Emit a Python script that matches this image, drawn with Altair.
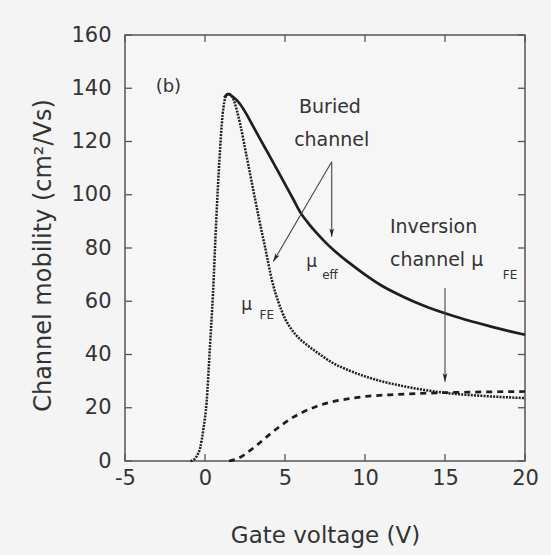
import altair as alt
import pandas as pd

# ---- data ----
eff_x = [1.2, 1.45, 1.8, 2.2, 2.6, 3.0, 3.5, 4.0, 4.5, 5.0, 5.5, 6.0, 6.5, 7.0, 7.5, 8.0, 9.0, 10.0, 11.0, 12.0, 13.0, 14.0, 15.0, 16.0, 17.0, 18.0, 19.0, 20.0]
eff_y = [136.5, 137.8, 136.5, 134.0, 130.2, 125.8, 120.3, 115.0, 109.5, 104.0, 98.5, 93.0, 89.0, 85.5, 82.3, 79.4, 74.5, 70.0, 66.0, 62.8, 60.0, 57.6, 55.5, 53.6, 51.9, 50.3, 48.8, 47.4]

fe_x = [-0.9, -0.7, -0.5, -0.3, -0.1, 0.1, 0.3, 0.5, 0.7, 0.9, 1.1, 1.3, 1.45, 1.6, 1.8, 2.0, 2.2, 2.6, 3.0, 3.4, 3.8, 4.2, 4.6, 5.0, 5.4, 5.9, 6.5, 7.0, 8.0, 9.0, 10.0, 11.0, 12.0, 13.0, 14.0, 15.0, 16.0, 17.0, 18.0, 19.0, 20.0]
fe_y = [0.0, 0.5, 2.0, 5.0, 12.0, 22.0, 42.0, 63.0, 90.0, 113.0, 130.0, 137.0, 138.0, 137.5, 135.5, 131.5, 126.5, 114.5, 102.3, 90.3, 79.0, 67.5, 59.5, 53.5, 49.5, 46.0, 43.0, 40.8, 36.8, 34.0, 31.8, 30.0, 28.6, 27.4, 26.4, 25.6, 25.0, 24.6, 24.2, 23.9, 23.6]

inv_x = [1.5, 2.0, 2.5, 3.0, 3.5, 4.0, 4.5, 5.0, 5.5, 6.0, 7.0, 8.0, 9.0, 10.0, 12.0, 14.0, 16.0, 18.0, 20.0]
inv_y = [0.0, 0.8, 2.5, 4.8, 7.2, 9.8, 12.2, 14.4, 16.4, 18.0, 20.6, 22.3, 23.4, 24.2, 25.0, 25.5, 25.8, 26.0, 26.1]

x_ticks = [-5, 0, 5, 10, 15, 20]
y_ticks = [0, 20, 40, 60, 80, 100, 120, 140, 160]

# arrows: start (x, y) -> tip (x2, y2), head angle
arr_x = [7.92, 7.92, 15.0]
arr_y = [112.4, 112.4, 65.0]
arr_x2 = [7.92, 4.27, 15.0]
arr_y2 = [84.2, 74.9, 29.8]
arr_angle = [0, 30, 0]

# labels
lab_text = ["Buried", "channel", "Inversion", "channel μ"]
lab_x = [7.81, 7.92, 11.56, 11.56]
lab_y = [133.1, 120.6, 88.0, 75.5]
lab_align = ["center", "center", "left", "left"]

panel_text = ["(b)"]
panel_x = [-2.29]
panel_y = [140.6]

mu_text = ["μ", "μ"]
mu_x = [6.67, 2.6]
mu_y = [74.9, 58.6]
sub_text = ["eff", "FE", "FE"]
sub_x = [7.81, 3.86, 19.06]
sub_y = [69.9, 54.8, 69.9]

# ---- chart ----
W, H = 400, 426
FONT = "DejaVu Sans"
ANN = "DejaVu Sans"
INK = "#1e1e1e"
TXT = "#333333"

xs = alt.Scale(domain=[-5, 20], nice=False, zero=False)
ys = alt.Scale(domain=[0, 160], nice=False, zero=False)

lab_expr = "datum.value < 0 ? '-' + format(-datum.value, 'd') : format(datum.value, 'd')"

x_axis = alt.Axis(values=x_ticks, tickSize=0, domain=False, grid=False, labelFontSize=21,
                  labelFont=FONT, labelColor=TXT, labelPadding=6, labelExpr=lab_expr,
                  labelFlush=False,
                  title="Gate voltage (V)", titleFont=FONT, titleFontSize=23,
                  titleFontWeight="normal", titleColor=TXT, titlePadding=36)
y_axis = alt.Axis(values=y_ticks, tickSize=0, domain=False, grid=False, labelFontSize=21,
                  labelFont=FONT, labelColor=TXT, labelPadding=14, labelFlush=False,
                  title="Channel mobility (cm²/Vs)", titleFont=FONT, titleFontSize=24,
                  titleFontWeight="normal", titleColor=TXT, titlePadding=15, titleY=220)

df_eff = pd.DataFrame({"x": eff_x, "y": eff_y})
df_fe = pd.DataFrame({"x": fe_x, "y": fe_y})
df_inv = pd.DataFrame({"x": inv_x, "y": inv_y})

base_x = alt.X("x:Q", scale=xs, axis=x_axis)
base_y = alt.Y("y:Q", scale=ys, axis=y_axis)

eff = alt.Chart(df_eff).mark_line(color=INK, strokeWidth=2.7, interpolate="monotone").encode(
    x=base_x, y=base_y)
fe = alt.Chart(df_fe).mark_line(color=INK, strokeWidth=2.5, strokeDash=[2, 1.2], interpolate="monotone").encode(
    x="x:Q", y="y:Q")
inv = alt.Chart(df_inv).mark_line(color=INK, strokeWidth=2.7, strokeDash=[6, 5], interpolate="monotone").encode(
    x="x:Q", y="y:Q")

dxt = pd.DataFrame({"v": x_ticks})
dyt = pd.DataFrame({"v": y_ticks})
tick_style = dict(color="#555555", strokeWidth=1.3)
xt_bot = alt.Chart(dxt).mark_rule(**tick_style).encode(x="v:Q", y=alt.value(H), y2=alt.value(H - 7))
xt_top = alt.Chart(dxt).mark_rule(**tick_style).encode(x="v:Q", y=alt.value(0), y2=alt.value(7))
yt_left = alt.Chart(dyt).mark_rule(**tick_style).encode(y="v:Q", x=alt.value(0), x2=alt.value(7))
yt_right = alt.Chart(dyt).mark_rule(**tick_style).encode(y="v:Q", x=alt.value(W), x2=alt.value(W - 7))

df_arr = pd.DataFrame({"x": arr_x, "y": arr_y, "x2": arr_x2, "y2": arr_y2, "a": arr_angle})
arr_lines = alt.Chart(df_arr).mark_rule(color="#444444", strokeWidth=1.1).encode(
    x="x:Q", y="y:Q", x2="x2:Q", y2="y2:Q")
arr_heads = alt.Chart(df_arr).mark_point(
    shape="M0,0L-0.45,-1.6L0,-1.2L0.45,-1.6Z", filled=True, color="#222222", opacity=1,
    size=110, strokeWidth=0).encode(
    x="x2:Q", y="y2:Q", angle=alt.Angle("a:Q", scale=None))

df_lab = pd.DataFrame({"t": lab_text, "x": lab_x, "y": lab_y, "al": lab_align})
labs_c = alt.Chart(df_lab[df_lab.al == "center"]).mark_text(
    font=ANN, fontSize=19, color=TXT, align="center", baseline="middle").encode(
    x="x:Q", y="y:Q", text="t:N")
labs_l = alt.Chart(df_lab[df_lab.al == "left"]).mark_text(
    font=ANN, fontSize=19, color=TXT, align="left", baseline="middle").encode(
    x="x:Q", y="y:Q", text="t:N")

df_panel = pd.DataFrame({"t": panel_text, "x": panel_x, "y": panel_y})
panel = alt.Chart(df_panel).mark_text(font=ANN, fontSize=18, color=TXT, align="center",
                                      baseline="middle").encode(x="x:Q", y="y:Q", text="t:N")

df_mu = pd.DataFrame({"t": mu_text, "x": mu_x, "y": mu_y})
mus = alt.Chart(df_mu).mark_text(font=ANN, fontSize=17, color=TXT, align="center",
                                 baseline="middle").encode(x="x:Q", y="y:Q", text="t:N")
df_sub = pd.DataFrame({"t": sub_text, "x": sub_x, "y": sub_y})
subs = alt.Chart(df_sub).mark_text(font=ANN, fontSize=12, color=TXT, align="center",
                                   baseline="middle").encode(x="x:Q", y="y:Q", text="t:N")

chart = alt.layer(eff, fe, inv, xt_bot, xt_top, yt_left, yt_right, arr_lines, arr_heads,
                  labs_c, labs_l, panel, mus, subs).properties(
    width=W, height=H,
    padding={"left": 125, "top": 35, "right": 26, "bottom": 94},
    autosize=alt.AutoSizeParams(type="none"),
    background="#f4f4f4",
).configure_view(stroke="#555555", strokeWidth=1.5, fill="#f6f6f6")

chart.save("out.html", embed_options={"renderer": "svg", "actions": False})
